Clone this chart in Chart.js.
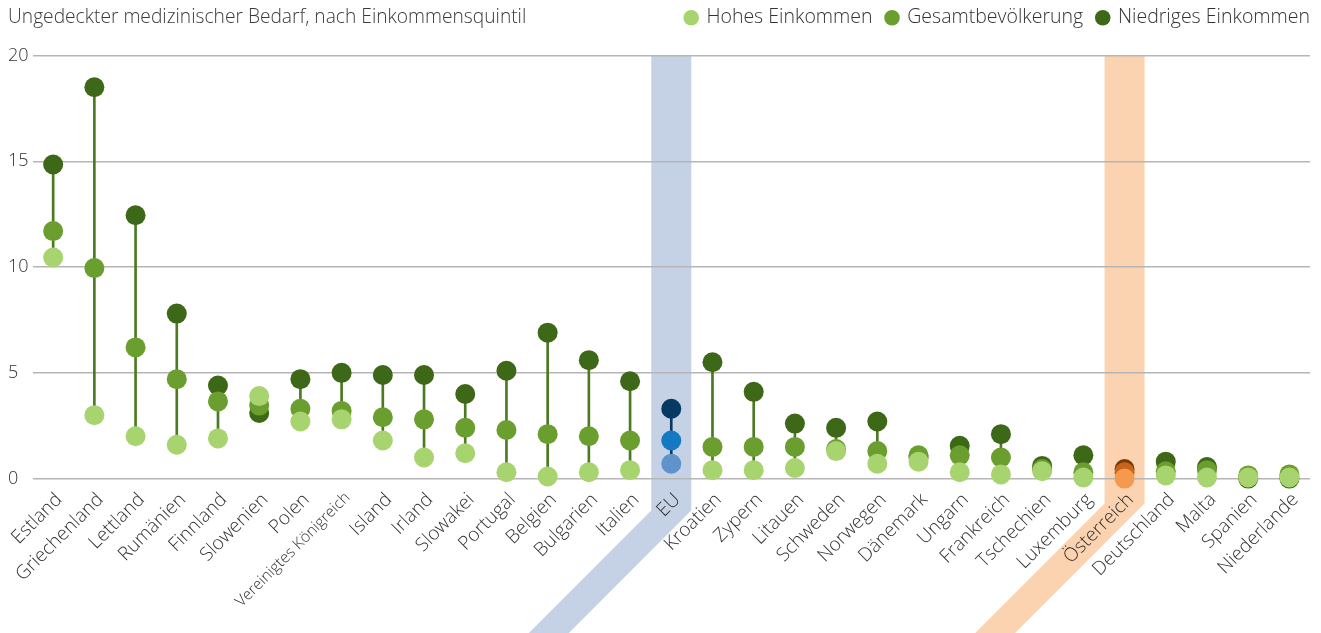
<!DOCTYPE html>
<html lang="de">
<head>
<meta charset="utf-8">
<title>Ungedeckter medizinischer Bedarf</title>
<script src="https://cdn.jsdelivr.net/npm/chart.js@4.4.1/dist/chart.umd.min.js"></script>
<style>
  html, body { margin: 0; padding: 0; background: #fff; }
  #wrap { position: relative; width: 1321px; height: 633px; }
  #title {
    position: absolute; left: 8px; top: 2px;
    font: 300 19.2px "Open Sans", sans-serif; color: #3a3a3a;
  }
</style>
</head>
<body>
<div id="wrap">
  <div id="title">Ungedeckter medizinischer Bedarf, nach Einkommensquintil</div>
  <canvas id="chart" width="1321" height="633"></canvas>
</div>
<script>
// categories and values
const countries = ["Estland", "Griechenland", "Lettland", "Rumänien", "Finnland", "Slowenien", "Polen",
  "Vereinigtes Königreich", "Island", "Irland", "Slowakei", "Portugal", "Belgien", "Bulgarien", "Italien",
  "EU", "Kroatien", "Zypern", "Litauen", "Schweden", "Norwegen", "Dänemark", "Ungarn", "Frankreich",
  "Tschechien", "Luxemburg", "Österreich", "Deutschland", "Malta", "Spanien", "Niederlande"];

const hohesEinkommen = [10.45, 3.0, 2.0, 1.6, 1.9, 3.9, 2.7, 2.8, 1.8, 1.0, 1.2, 0.3, 0.1, 0.3, 0.4,
  0.7, 0.4, 0.4, 0.5, 1.3, 0.7, 0.8, 0.3, 0.2, 0.35, 0.05, 0.0, 0.15, 0.05, 0.05, 0.05];
const gesamt = [11.7, 9.95, 6.2, 4.7, 3.65, 3.45, 3.3, 3.2, 2.9, 2.8, 2.4, 2.3, 2.1, 2.0, 1.8,
  1.8, 1.5, 1.5, 1.5, 1.4, 1.3, 1.1, 1.1, 1.0, 0.45, 0.3, 0.3, 0.35, 0.4, 0.15, 0.2];
const niedrigesEinkommen = [14.85, 18.5, 12.45, 7.8, 4.4, 3.1, 4.7, 5.0, 4.9, 4.9, 4.0, 5.1, 6.9, 5.6, 4.6,
  3.3, 5.5, 4.1, 2.6, 2.4, 2.7, 1.0, 1.55, 2.1, 0.6, 1.1, 0.45, 0.8, 0.55, 0.0, 0.0];

const yTicks = [0, 5, 10, 15, 20];

// colours
const green = { light: "#a8d46f", mid: "#6a9e2e", dark: "#3d6817", line: "#4b7a22" };
const blue = { light: "#5e93cc", mid: "#1479c0", dark: "#073963", line: "#073963" };
const orange = { light: "#f5994f", mid: "#c7661a", dark: "#7d3a06", line: "#7d3a06" };
// highlight bands: colour and how far below the axis the band bends
const bands = {
  "EU": { color: "#c5d2e5", bend: 32 },
  "Österreich": { color: "#fbd3b0", bend: 25 }
};

function paletteFor(name) {
  if (name === "EU") return blue;
  if (name === "Österreich") return orange;
  return green;
}
const colorsFor = key => countries.map(c => paletteFor(c)[key]);

// connector line from lowest to highest point of each country
const ranges = countries.map((c, i) => {
  const v = [hohesEinkommen[i], gesamt[i], niedrigesEinkommen[i]];
  return [Math.min(...v), Math.max(...v)];
});

// highlight bands for EU and Österreich, vertical then bent down-left under the labels
const bandPlugin = {
  id: "bands",
  beforeDraw(chart) {
    const ctx = chart.ctx;
    const x = chart.scales.x;
    const area = chart.chartArea;
    const half = 20;
    const bottom = chart.height;
    Object.keys(bands).forEach(name => {
      const cx = x.getPixelForValue(countries.indexOf(name));
      const bend = area.bottom + bands[name].bend;
      const drop = bottom - bend;
      ctx.save();
      ctx.fillStyle = bands[name].color;
      ctx.beginPath();
      ctx.moveTo(cx - half, area.top);
      ctx.lineTo(cx + half, area.top);
      ctx.lineTo(cx + half, bend);
      ctx.lineTo(cx + half - drop, bottom);
      ctx.lineTo(cx - half - drop, bottom);
      ctx.lineTo(cx - half, bend);
      ctx.closePath();
      ctx.fill();
      ctx.restore();
    });
  }
};

// extra room between legend and plot, legend pushed flush right and up a bit
const legendPad = 14;
const legendGap = {
  id: "legendGap",
  beforeInit(chart) {
    const fit = chart.legend.fit;
    chart.legend.fit = function () {
      fit.bind(chart.legend)();
      this.height += 12;
    };
  },
  afterLayout(chart) {
    chart.legend.left += legendPad;
    chart.legend.right += legendPad;
    chart.legend.top -= 6;
    chart.legend.bottom -= 6;
  }
};

const pointDefaults = {
  type: "line",
  showLine: false,
  pointRadius: 10,
  pointHoverRadius: 10,
  pointBorderWidth: 0,
  clip: false
};

new Chart(document.getElementById("chart"), {
  type: "line",
  data: {
    labels: countries,
    datasets: [
      Object.assign({}, pointDefaults, {
        label: "Hohes Einkommen",
        data: hohesEinkommen,
        backgroundColor: green.light,
        pointBackgroundColor: colorsFor("light")
      }),
      Object.assign({}, pointDefaults, {
        label: "Gesamtbevölkerung",
        data: gesamt,
        backgroundColor: green.mid,
        pointBackgroundColor: colorsFor("mid")
      }),
      Object.assign({}, pointDefaults, {
        label: "Niedriges Einkommen",
        data: niedrigesEinkommen,
        backgroundColor: green.dark,
        pointBackgroundColor: colorsFor("dark")
      }),
      {
        type: "bar",
        label: "range",
        data: ranges,
        backgroundColor: colorsFor("line"),
        barThickness: 2,
        grouped: false,
        clip: false
      }
    ]
  },
  options: {
    responsive: false,
    animation: false,
    events: [],
    layout: { padding: { left: 8, right: 11, top: 0, bottom: 17 } },
    plugins: {
      tooltip: { enabled: false },
      title: { display: false },
      legend: {
        position: "top",
        align: "end",
        labels: {
          filter: item => item.text !== "range",
          usePointStyle: true,
          pointStyle: "circle",
          boxHeight: 11,
          boxWidth: 11,
          padding: legendPad,
          color: "#333",
          font: { family: "'Open Sans', sans-serif", size: 19.5, weight: 300 }
        }
      }
    },
    scales: {
      x: {
        type: "category",
        offset: true,
        grid: { display: false },
        border: { display: false },
        ticks: {
          autoSkip: false,
          minRotation: 45,
          maxRotation: 45,
          padding: 2,
          labelOffset: 6,
          color: "#333",
          font: ctx => ({
            family: "'Open Sans', sans-serif",
            weight: 300,
            size: countries[ctx.index] === "Vereinigtes Königreich" ? 15.5 : 19
          })
        }
      },
      y: {
        min: 0,
        max: 20,
        afterBuildTicks: axis => { axis.ticks = yTicks.map(v => ({ value: v })); },
        grid: { color: "#b5b5b5", lineWidth: 1.5, drawTicks: false },
        border: { display: false },
        ticks: {
          crossAlign: "far",
          padding: 2,
          color: "#333",
          font: { family: "'Open Sans', sans-serif", size: 18, weight: 300 }
        }
      }
    }
  },
  plugins: [bandPlugin, legendGap]
});
</script>
</body>
</html>
